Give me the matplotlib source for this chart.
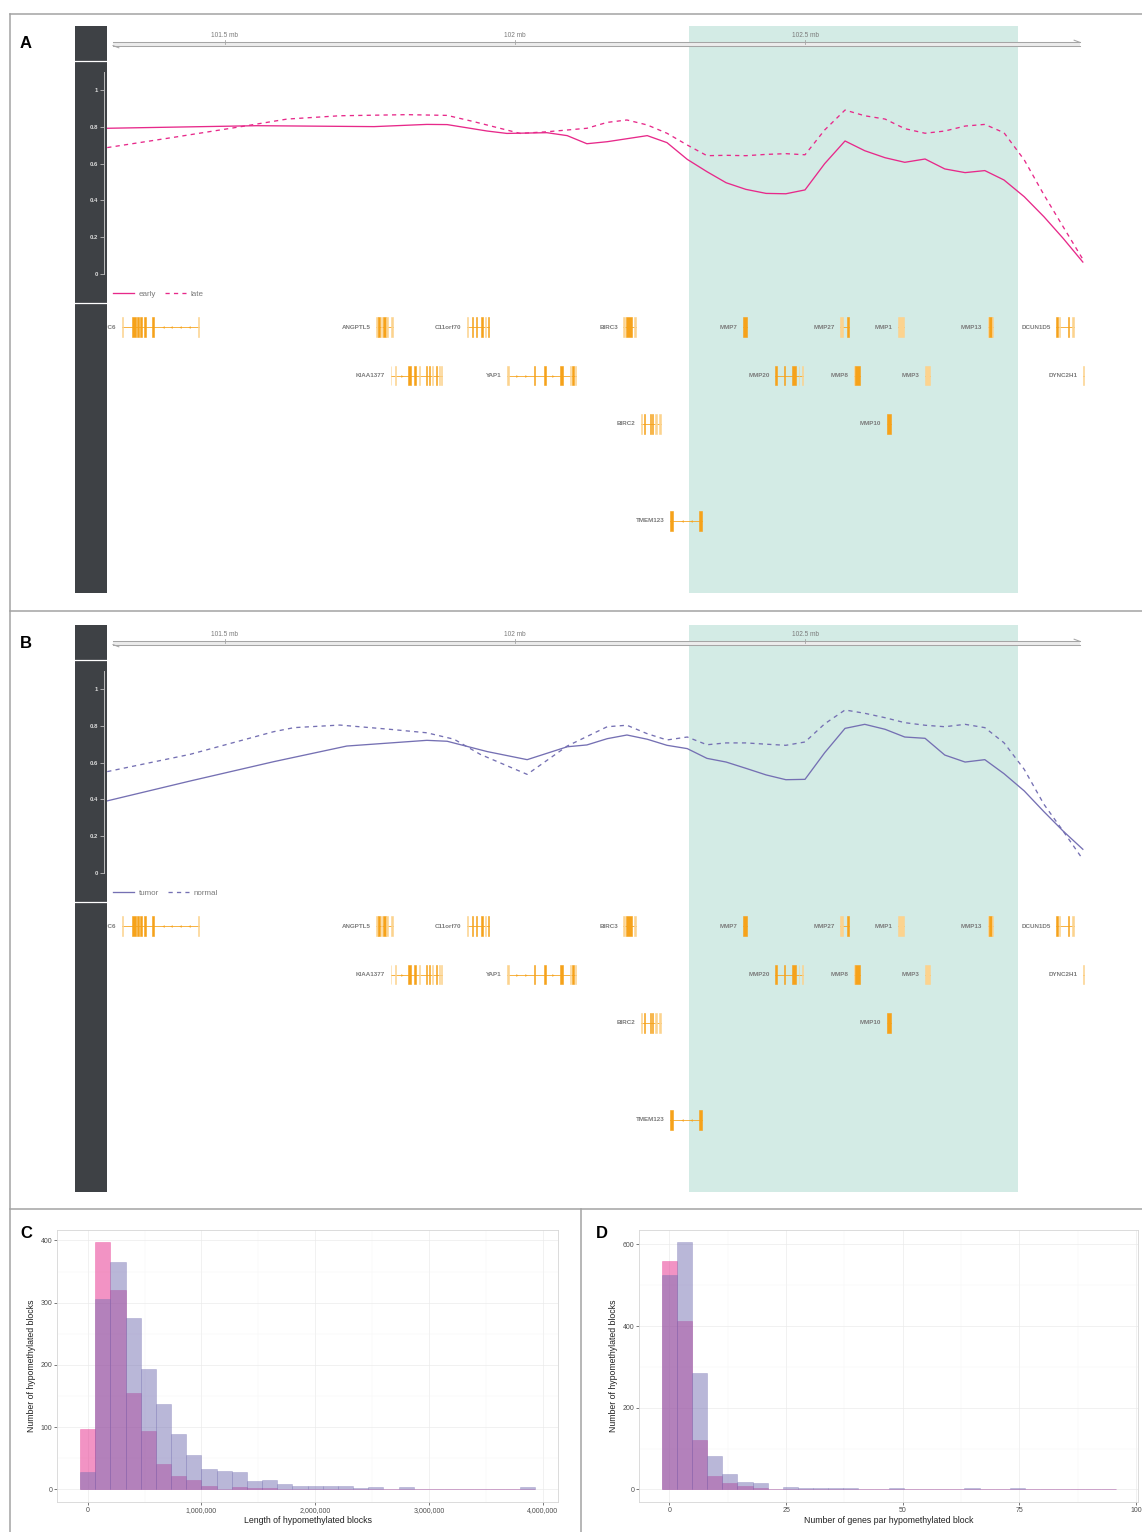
import matplotlib
matplotlib.use('Agg')
import matplotlib.pyplot as plt
from matplotlib.patches import Rectangle
from matplotlib.lines import Line2D
from matplotlib.transforms import ScaledTranslation
from matplotlib.ticker import MultipleLocator
import numpy as np

plt.rcParams['font.family'] = ['Liberation Sans', 'DejaVu Sans']

# ---------------------------------------------------------------- data
region_mb = (101.2966, 103.0810)          # visible genomic window (mb)
ruler_mb = (101.307, 102.974)             # extent of the genome axis arrow
ruler_ticks_mb = [101.5, 102.0, 102.5]
ruler_labels = ['101.5 mb', '102 mb', '102.5 mb']
highlight_mb = (102.300, 102.867)         # highlighted block
meth_ticks = [0, 0.2, 0.4, 0.6, 0.8, 1.0]
meth_tick_labels = ['0', '0.2', '0.4', '0.6', '0.8', '1']

# Panel A : early / late
early_pos = [101.297, 101.555, 101.757, 101.848, 101.883, 101.952, 101.986, 102.055,
             102.090, 102.124, 102.159, 102.228, 102.262, 102.297, 102.331, 102.364,
             102.398, 102.433, 102.467, 102.500, 102.534, 102.569, 102.603, 102.638,
             102.672, 102.707, 102.741, 102.776, 102.810, 102.843, 102.878, 102.912,
             102.945, 102.979]
early_val = [0.792, 0.806, 0.801, 0.813, 0.812, 0.777, 0.764, 0.768,
             0.752, 0.708, 0.719, 0.752, 0.714, 0.623, 0.556, 0.496,
             0.460, 0.438, 0.436, 0.457, 0.600, 0.723, 0.670, 0.632,
             0.607, 0.625, 0.571, 0.551, 0.562, 0.511, 0.420, 0.311,
             0.194, 0.065]
late_pos = [101.297, 101.412, 101.526, 101.607, 101.698, 101.814, 101.883, 101.929,
            102.009, 102.055, 102.124, 102.159, 102.193, 102.228, 102.262, 102.297,
            102.331, 102.364, 102.398, 102.433, 102.467, 102.500, 102.534, 102.569,
            102.603, 102.638, 102.672, 102.707, 102.741, 102.776, 102.810, 102.843,
            102.878, 102.912, 102.945, 102.979]
late_val = [0.687, 0.743, 0.800, 0.842, 0.860, 0.866, 0.862, 0.828,
            0.764, 0.773, 0.792, 0.824, 0.837, 0.810, 0.765, 0.701,
            0.643, 0.645, 0.643, 0.650, 0.654, 0.648, 0.783, 0.891,
            0.860, 0.842, 0.790, 0.765, 0.777, 0.804, 0.813, 0.768,
            0.620, 0.430, 0.257, 0.080]

# Panel B : tumor / normal
tumor_pos = [101.297, 101.440, 101.584, 101.710, 101.848, 101.883, 101.952, 102.021,
             102.090, 102.124, 102.159, 102.193, 102.228, 102.262, 102.297, 102.331,
             102.364, 102.398, 102.433, 102.467, 102.500, 102.534, 102.569, 102.603,
             102.638, 102.672, 102.707, 102.741, 102.776, 102.810, 102.843, 102.878,
             102.912, 102.945, 102.979]
tumor_val = [0.392, 0.500, 0.605, 0.690, 0.721, 0.716, 0.660, 0.616,
             0.686, 0.696, 0.730, 0.750, 0.727, 0.694, 0.676, 0.623,
             0.603, 0.569, 0.533, 0.507, 0.509, 0.654, 0.786, 0.808,
             0.781, 0.739, 0.732, 0.641, 0.603, 0.616, 0.540, 0.446,
             0.333, 0.228, 0.129]
normal_pos = [101.297, 101.440, 101.584, 101.619, 101.698, 101.784, 101.848, 101.895,
              101.940, 102.021, 102.090, 102.159, 102.193, 102.228, 102.262, 102.297,
              102.331, 102.364, 102.398, 102.433, 102.467, 102.500, 102.534, 102.569,
              102.603, 102.638, 102.672, 102.707, 102.741, 102.776, 102.810, 102.843,
              102.878, 102.912, 102.945, 102.979]
normal_val = [0.551, 0.645, 0.768, 0.790, 0.804, 0.781, 0.762, 0.727,
              0.645, 0.536, 0.690, 0.795, 0.803, 0.757, 0.723, 0.739,
              0.697, 0.707, 0.707, 0.700, 0.694, 0.712, 0.811, 0.886,
              0.868, 0.844, 0.817, 0.803, 0.795, 0.808, 0.790, 0.708,
              0.563, 0.373, 0.228, 0.074]

# Gene models (mb); shade 'd' = coding exon, 'l' = UTR-like light exon
gene_names = ['TRPC6', 'ANGPTL5', 'C11orf70', 'BIRC3', 'MMP7', 'MMP27', 'MMP1', 'MMP13',
              'DCUN1D5', 'KIAA1377', 'YAP1', 'MMP20', 'MMP8', 'MMP3', 'DYNC2H1',
              'BIRC2', 'MMP10', 'TMEM123']
gene_rows = [0, 0, 0, 0, 0, 0, 0, 0, 0, 1, 1, 1, 1, 1, 1, 2, 2, 4]
gene_strands = ['-', '-', '+', '+', '-', '-', '-', '-', '-', '+', '+', '-', '-', '-',
                '-', '+', '-', '-']
gene_exons = [
    [(101.323, 101.325, 'l'), (101.340, 101.347, 'd'), (101.349, 101.352, 'd'),
     (101.354, 101.357, 'd'), (101.360, 101.363, 'd'), (101.375, 101.377, 'd'),
     (101.454, 101.456, 'l')],
    [(101.761, 101.763, 'l'), (101.764, 101.768, 'd'), (101.769, 101.771, 'l'),
     (101.772, 101.777, 'd'), (101.778, 101.781, 'l'), (101.787, 101.789, 'l')],
    [(101.917, 101.919, 'l'), (101.926, 101.928, 'd'), (101.933, 101.935, 'd'),
     (101.941, 101.944, 'd'), (101.948, 101.950, 'l'), (101.953, 101.956, 'd')],
    [(102.187, 102.189, 'l'), (102.192, 102.202, 'd'), (102.206, 102.209, 'l')],
    [(102.393, 102.400, 'd')],
    [(102.561, 102.565, 'l'), (102.573, 102.575, 'd')],
    [(102.660, 102.670, 'l')],
    [(102.815, 102.817, 'l'), (102.817, 102.822, 'd'), (102.822, 102.824, 'l')],
    [(102.933, 102.936, 'd'), (102.938, 102.940, 'l'), (102.953, 102.956, 'd'),
     (102.961, 102.963, 'l')],
    [(101.786, 101.787, 'l'), (101.793, 101.795, 'l'), (101.815, 101.820, 'd'),
     (101.826, 101.829, 'd'), (101.835, 101.837, 'l'), (101.847, 101.849, 'd'),
     (101.852, 101.853, 'd'), (101.857, 101.859, 'l'), (101.863, 101.865, 'd'),
     (101.869, 101.871, 'l'), (101.872, 101.874, 'l')],
    [(101.987, 101.989, 'l'), (102.033, 102.034, 'd'), (102.050, 102.053, 'd'),
     (102.078, 102.082, 'd'), (102.095, 102.097, 'l'), (102.098, 102.102, 'd'),
     (102.103, 102.106, 'l')],
    [(102.449, 102.451, 'd'), (102.464, 102.466, 'd'), (102.477, 102.485, 'd'),
     (102.489, 102.490, 'l'), (102.495, 102.497, 'l')],
    [(102.584, 102.586, 'l'), (102.586, 102.594, 'd')],
    [(102.707, 102.716, 'l')],
    [(102.980, 102.981, 'l')],
    [(102.217, 102.219, 'l'), (102.223, 102.224, 'd'), (102.233, 102.235, 'd'),
     (102.236, 102.238, 'd'), (102.242, 102.244, 'l'), (102.249, 102.251, 'l')],
    [(102.641, 102.642, 'l'), (102.642, 102.648, 'd')],
    [(102.268, 102.273, 'd'), (102.318, 102.322, 'd')],
]

# Panel C : length of hypomethylated blocks (30 bins)
c_bin_edges = np.linspace(-66667, 3933333, 31)
c_pink = [97, 397, 320, 155, 93, 40, 21, 15, 6, 0, 4, 2, 2, 1, 0,
          0, 0, 0, 0, 0, 0, 0, 0, 0, 0, 0, 0, 0, 0, 0]
c_lav = [28, 306, 365, 276, 194, 137, 89, 55, 32, 29, 28, 13, 15, 8, 5,
         5, 5, 5, 2, 3, 1, 3, 1, 0, 1, 0, 0, 0, 1, 3]
c_xticks = [0, 1000000, 2000000, 3000000, 4000000]
c_xticklabels = ['0', '1,000,000', '2,000,000', '3,000,000', '4,000,000']
c_yticks = [0, 100, 200, 300, 400]

# Panel D : number of genes per hypomethylated block (30 bins)
d_bin_edges = np.linspace(-1.6207, 95.6207, 31)
d_pink = [559, 412, 122, 33, 15, 7, 4, 1, 1, 1, 1, 1, 0, 0, 0,
          1, 0, 0, 0, 0, 0, 0, 0, 0, 0, 0, 0, 0, 0, 0]
d_lav = [525, 605, 284, 81, 37, 19, 16, 2, 6, 3, 3, 4, 4, 2, 2,
         4, 1, 1, 2, 2, 3, 1, 1, 3, 2, 1, 1, 1, 1, 2]
d_xticks = [0, 25, 50, 75, 100]
d_yticks = [0, 200, 400, 600]

# ---------------------------------------------------------------- style
W, H = 1142, 1532
SIDEBAR = '#3e4145'
HL = '#d3ebe5'
EXON_D = '#f6a21a'
EXON_L = '#fcd38e'
INTRON = '#f6a623'
GRAYTXT = '#7a7a7a'
MAGENTA = '#e7298a'
PURPLE = '#7570b3'

fig = plt.figure(figsize=(W / 100, H / 100), dpi=100)


def frect(x0, y0, x1, y1):
    return [x0 / W, 1 - y1 / H, (x1 - x0) / W, (y1 - y0) / H]


def track_panel(top, s1, s2, names, color):
    # dark title sidebar
    sb = fig.add_axes(frect(75, top, 107, top + 567))
    sb.set_zorder(0)
    sb.set_facecolor(SIDEBAR)
    sb.set_xlim(0, 1)
    sb.set_ylim(567, 0)
    sb.set_xticks([])
    sb.set_yticks([])
    for s in sb.spines.values():
        s.set_visible(False)
    sb.axhline(35, color='white', lw=0.9)
    sb.axhline(277, color='white', lw=0.9)

    # genome axis
    ra = fig.add_axes(frect(107, top, 1142, top + 35))
    ra.set_zorder(1)
    ra.set_xlim(*region_mb)
    ra.set_ylim(35, 0)
    ra.axis('off')
    ra.axvspan(*highlight_mb, color=HL, lw=0, zorder=0)
    x0, x1 = ruler_mb
    ra.fill_between([x0, x1], 16.4, 19.6, color='#ececec', lw=0, zorder=1)
    ra.plot([x0, x1], [16.4, 16.4], color='#a5a5a5', lw=0.75, zorder=2)
    ra.plot([x0, x1], [19.6, 19.6], color='#a5a5a5', lw=0.75, zorder=2)
    ra.plot([x0, x0 + 0.010], [19.6, 21.8], color='#a5a5a5', lw=0.75, zorder=2)
    ra.plot([x1 - 0.010, x1], [14.2, 16.4], color='#a5a5a5', lw=0.75, zorder=2)
    for t, lab in zip(ruler_ticks_mb, ruler_labels):
        ra.plot([t, t], [13.5, 18], color='#a5a5a5', lw=0.6, zorder=3)
        ra.text(t, 9.5, lab, ha='center', va='center', fontsize=4.7, color=GRAYTXT)

    # methylation data track
    da = fig.add_axes(frect(107, top + 35, 1142, top + 277))
    da.set_zorder(2)
    da.set_facecolor('none')
    da.set_xlim(*region_mb)
    da.set_ylim(-29 / 184, 1 + 29 / 184)
    da.axvspan(*highlight_mb, color=HL, lw=0, zorder=0)
    da.plot(s1[0], s1[1], color=color, lw=0.95, label=names[0], zorder=3)
    da.plot(s2[0], s2[1], color=color, lw=0.95, ls=(0, (3.2, 3.2)), label=names[1], zorder=3)
    for side in ['top', 'right', 'bottom']:
        da.spines[side].set_visible(False)
    da.spines['left'].set_position(('outward', 2))
    da.spines['left'].set_bounds(0, 1.1)
    da.spines['left'].set_color('#bdbdbd')
    da.spines['left'].set_linewidth(0.7)
    da.set_xticks([])
    da.set_yticks(meth_ticks)
    da.set_yticklabels(meth_tick_labels)
    da.tick_params(axis='y', length=3, width=0.6, color='#bdbdbd', labelcolor='#dcdcdc',
                   labelsize=4.3, pad=1.5)
    for lab in da.get_yticklabels():
        lab.set_fontweight('bold')
    da.legend(loc='center left', bbox_to_anchor=(0.0058, 0.037), ncol=2, frameon=False,
              fontsize=5.8, handlelength=2.6, handletextpad=0.6, columnspacing=1.1,
              borderpad=0, borderaxespad=0, labelcolor=GRAYTXT)

    # gene track
    ga = fig.add_axes(frect(107, top + 277, 1142, top + 567))
    ga.set_zorder(1)
    ga.set_xlim(*region_mb)
    ga.set_ylim(5.485, -0.495)
    ga.axis('off')
    ga.axvspan(*highlight_mb, color=HL, lw=0, zorder=0)
    off = ScaledTranslation(-4 / 72, 0, fig.dpi_scale_trans)
    for name, row, strand, exons in zip(gene_names, gene_rows, gene_strands, gene_exons):
        gs = min(e[0] for e in exons)
        ge = max(e[1] for e in exons)
        ga.plot([gs, ge], [row, row], color=INTRON, lw=0.6, zorder=2)
        mk = '<' if strand == '-' else '>'
        for (a1, b1, _), (a2, b2, _) in zip(exons[:-1], exons[1:]):
            gap = a2 - b1
            if gap > 0.012:
                n = int(gap / 0.016)
                for k in range(1, n + 1):
                    xm = b1 + gap * k / (n + 1)
                    ga.plot([xm], [row], marker=mk, ms=1.8, color=INTRON, mew=0, zorder=2)
        for a, b, shade in exons:
            c = EXON_D if shade == 'd' else EXON_L
            ga.add_patch(Rectangle((a, row - 0.206), b - a, 0.412, fc=c, ec=c, lw=0.4, zorder=3))
        ga.text(gs, row, name, ha='right', va='center', fontsize=4.5, color=GRAYTXT,
                fontweight='bold', clip_on=True, transform=ga.transData + off)


track_panel(26, (early_pos, early_val), (late_pos, late_val), ('early', 'late'), MAGENTA)
track_panel(625, (tumor_pos, tumor_val), (normal_pos, normal_val), ('tumor', 'normal'), PURPLE)


def hist_panel(rect_px, edges, pink, lav, xlim, ylim, xticks, xticklabels, xminor,
               yticks, yminor, xlabel):
    ax = fig.add_axes(frect(*rect_px))
    centers = (edges[:-1] + edges[1:]) / 2
    widths = np.diff(edges)
    ax.bar(centers, pink, width=widths, color=MAGENTA, alpha=0.5, edgecolor=MAGENTA,
           lw=0.4, zorder=2)
    ax.bar(centers, lav, width=widths, color=PURPLE, alpha=0.5, edgecolor=PURPLE,
           lw=0.4, zorder=3)
    ax.set_xlim(*xlim)
    ax.set_ylim(*ylim)
    ax.set_xticks(xticks)
    if xticklabels is not None:
        ax.set_xticklabels(xticklabels)
    ax.set_yticks(yticks)
    ax.xaxis.set_minor_locator(MultipleLocator(xminor))
    ax.yaxis.set_minor_locator(MultipleLocator(yminor))
    ax.grid(True, which='major', color='#ebebeb', lw=0.5, zorder=0)
    ax.grid(True, which='minor', color='#f5f5f5', lw=0.35, zorder=0)
    ax.set_axisbelow(True)
    for s in ax.spines.values():
        s.set_color('#d6d6d6')
        s.set_linewidth(0.6)
    ax.tick_params(which='major', length=2, width=0.5, color='#444444', labelsize=5,
                   labelcolor='#4d4d4d', pad=1.5)
    ax.tick_params(which='minor', length=0)
    ax.set_xlabel(xlabel, fontsize=6.3, color='#222222', labelpad=1.5)
    ax.set_ylabel('Number of hypomethylated blocks', fontsize=6.3, color='#222222',
                  labelpad=3.5)
    return ax


hist_panel((57.3, 1230, 557.9, 1501.7), c_bin_edges, c_pink, c_lav,
           (-266667, 4133333), (-19.85, 416.85), c_xticks, c_xticklabels, 500000,
           c_yticks, 50, 'Length of hypomethylated blocks')
hist_panel((639.1, 1230, 1138.3, 1501.7), d_bin_edges, d_pink, d_lav,
           (-6.48, 100.46), (-30.25, 635.25), d_xticks, None, 12.5,
           d_yticks, 100, 'Number of genes par hypomethylated block')

# panel letters
for lab, (x, y) in zip(['A', 'B', 'C', 'D'], [(20, 44), (20, 643), (20, 1234), (596, 1234)]):
    fig.text(x / W, 1 - y / H, lab, fontsize=12, fontweight='bold', va='center', ha='left',
             color='black')

# frame lines
FRAME = '#a3a3a3'
for (xa, ya, xb, yb) in [(10, 14, 1142, 14), (10, 611, 1142, 611), (10, 1209, 1142, 1209),
                         (10, 14, 10, 1532), (581, 1209, 581, 1532)]:
    fig.add_artist(Line2D([xa / W, xb / W], [1 - ya / H, 1 - yb / H], transform=fig.transFigure,
                          color=FRAME, lw=1.1))

fig.savefig('out.png', dpi=100)
